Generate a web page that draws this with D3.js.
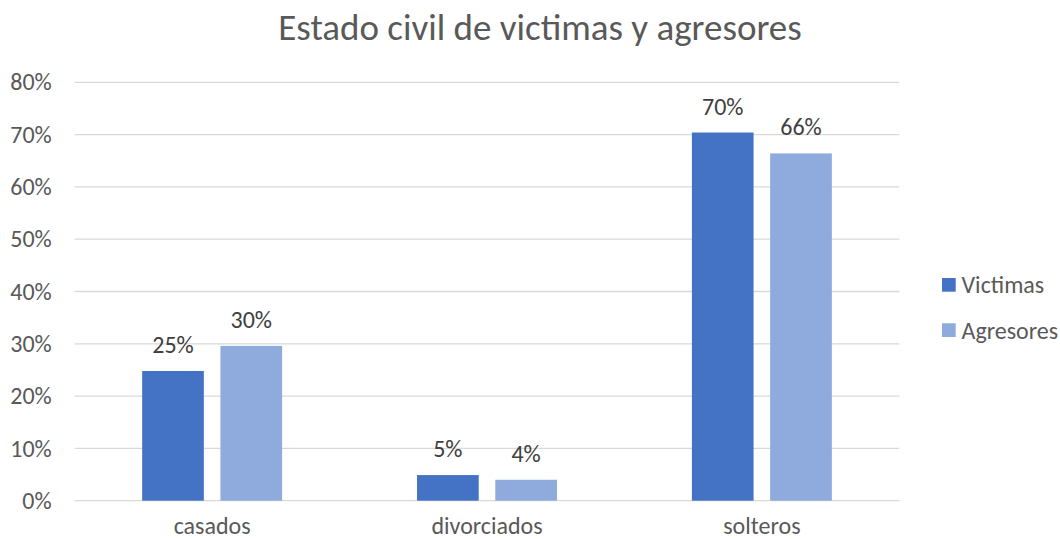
<!DOCTYPE html>
<html>
<head>
<meta charset="utf-8">
<script src="https://cdn.jsdelivr.net/npm/d3@7"></script>
<style>
  body { margin: 0; background: #fff; }
  svg { display: block; font-family: Carlito, Calibri, Lato, sans-serif; }
</style>
</head>
<body>
<script>
var categories = ["casados", "divorciados", "solteros"];
var seriesNames = ["Victimas", "Agresores"];
var victimas = [0.248, 0.049, 0.704];
var agresores = [0.296, 0.040, 0.664];
var yTicks = [0, 0.1, 0.2, 0.3, 0.4, 0.5, 0.6, 0.7, 0.8];
var colors = ["#4472C4", "#8FAADC"];

var width = 1060,
    height = 539,
    margin = {top: 82.3, right: 160.7, bottom: 38.3, left: 74.7};

var innerW = width - margin.left - margin.right,
    innerH = height - margin.top - margin.bottom;

var svg = d3.select("body").append("svg")
    .attr("width", width)
    .attr("height", height);

svg.append("text")
    .attr("x", 540)
    .attr("y", 40)
    .attr("text-anchor", "middle")
    .attr("font-size", "37px")
    .attr("fill", "#595959")
    .text("Estado civil de victimas y agresores");

var g = svg.append("g")
    .attr("transform", "translate(" + margin.left + "," + margin.top + ")");

var x0 = d3.scaleBand()
    .domain(categories)
    .range([0, innerW])
    .padding(0);

var x1 = d3.scaleBand()
    .domain(seriesNames)
    .range([0, x0.bandwidth()])
    .paddingInner(0.212)
    .paddingOuter(0.862);

var y = d3.scaleLinear()
    .domain([0, 0.8])
    .range([innerH, 0]);

var fmt = d3.format(".0%");

// gridlines
g.append("g")
    .selectAll("line")
    .data(yTicks)
    .enter().append("line")
    .attr("x1", 0)
    .attr("x2", innerW)
    .attr("y1", function(d) { return y(d); })
    .attr("y2", function(d) { return y(d); })
    .attr("stroke", "#D9D9D9")
    .attr("stroke-width", 1.3);

// y axis labels
var yAxis = g.append("g")
    .call(d3.axisLeft(y).tickValues(yTicks).tickFormat(fmt).tickSize(0).tickPadding(23));
yAxis.select(".domain").remove();
yAxis.selectAll("text")
    .attr("font-family", "Carlito, Calibri, Lato, sans-serif")
    .attr("font-size", "24px")
    .attr("fill", "#595959");

// x axis labels
var xAxis = g.append("g")
    .attr("transform", "translate(0," + innerH + ")")
    .call(d3.axisBottom(x0).tickSize(0).tickPadding(16));
xAxis.select(".domain").remove();
xAxis.selectAll("text")
    .attr("font-family", "Carlito, Calibri, Lato, sans-serif")
    .attr("font-size", "24px")
    .attr("fill", "#595959");

var rows = categories.map(function(c, i) {
    return {cat: c, values: [
        {name: seriesNames[0], value: victimas[i]},
        {name: seriesNames[1], value: agresores[i]}
    ]};
});

var groups = g.selectAll(".grp")
    .data(rows)
    .enter().append("g")
    .attr("class", "grp")
    .attr("transform", function(d) { return "translate(" + x0(d.cat) + ",0)"; });

groups.selectAll("rect")
    .data(function(d) { return d.values; })
    .enter().append("rect")
    .attr("x", function(d) { return x1(d.name); })
    .attr("width", x1.bandwidth())
    .attr("y", function(d) { return y(d.value); })
    .attr("height", function(d) { return innerH - y(d.value); })
    .attr("fill", function(d, i) { return colors[i]; });

groups.selectAll(".lbl")
    .data(function(d) { return d.values; })
    .enter().append("text")
    .attr("class", "lbl")
    .attr("x", function(d) { return x1(d.name) + x1.bandwidth() / 2; })
    .attr("y", function(d) { return y(d.value) - 18; })
    .attr("text-anchor", "middle")
    .attr("font-size", "24px")
    .attr("fill", "#404040")
    .text(function(d) { return fmt(d.value); });

// legend
var legend = svg.append("g")
    .attr("transform", "translate(942,278)");

var items = legend.selectAll("g")
    .data(seriesNames)
    .enter().append("g")
    .attr("transform", function(d, i) { return "translate(0," + (i * 45.3) + ")"; });

items.append("rect")
    .attr("width", 13.7)
    .attr("height", 13.7)
    .attr("fill", function(d, i) { return colors[i]; });

items.append("text")
    .attr("x", 19.5)
    .attr("y", 7)
    .attr("dy", "0.35em")
    .attr("font-size", "24px")
    .attr("fill", "#595959")
    .text(function(d) { return d; });
</script>
</body>
</html>
